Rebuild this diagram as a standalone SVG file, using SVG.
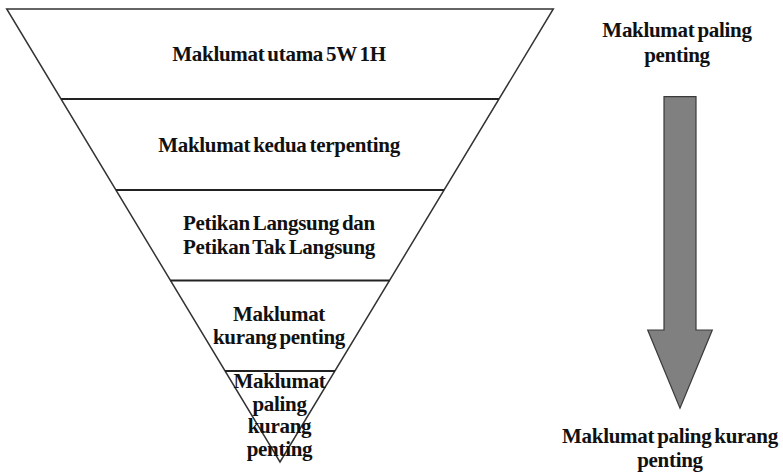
<svg xmlns="http://www.w3.org/2000/svg" width="783" height="476" viewBox="0 0 783 476">
<style>
.t{font-family:"Liberation Serif","Times New Roman",serif;font-weight:bold;font-size:21px;fill:#111;text-anchor:middle;letter-spacing:-0.3px;word-spacing:-2px}
.edge{fill:none;stroke:#333;stroke-width:1.5;stroke-linejoin:miter}
.div{stroke:#222;stroke-width:1.8}
.arrow{fill:#808080;stroke:#3a3a3a;stroke-width:1.2}
</style>
<rect width="783" height="476" fill="#fff"/>
<g id="pyramid">
<polygon class="edge" points="6.7,9 553.3,9 280,462"/>
</g>
<g id="layer1">
<text class="t" x="279" y="61">Maklumat utama 5W 1H</text>
</g>
<g id="layer2">
<line class="div" x1="61" y1="99" x2="499" y2="99"/>
<text class="t" x="279" y="152">Maklumat kedua terpenting</text>
</g>
<g id="layer3">
<line class="div" x1="116" y1="190" x2="444" y2="190"/>
<text class="t" x="279" y="229.5">Petikan Langsung dan</text>
<text class="t" x="279" y="253.5">Petikan Tak Langsung</text>
</g>
<g id="layer4">
<line class="div" x1="170.5" y1="280.5" x2="389.5" y2="280.5"/>
<text class="t" x="279" y="320.5">Maklumat</text>
<text class="t" x="279" y="344">kurang penting</text>
</g>
<g id="layer5">
<line class="div" x1="225" y1="371" x2="335" y2="371"/>
<text class="t" x="279.5" y="388">Maklumat</text>
<text class="t" x="279.5" y="411">paling</text>
<text class="t" x="279.5" y="433">kurang</text>
<text class="t" x="279.5" y="456">penting</text>
</g>
<g id="label-top">
<text class="t" x="677" y="36.5">Maklumat paling</text>
<text class="t" x="677" y="61.5">penting</text>
</g>
<g id="connectors">
<polygon class="arrow" points="664,96.7 696,96.7 696,330 712.3,330 680,408.3 647.7,330 664,330"/>
</g>
<g id="label-bottom">
<text class="t" x="670" y="443">Maklumat paling kurang</text>
<text class="t" x="670" y="467">penting</text>
</g>
</svg>
